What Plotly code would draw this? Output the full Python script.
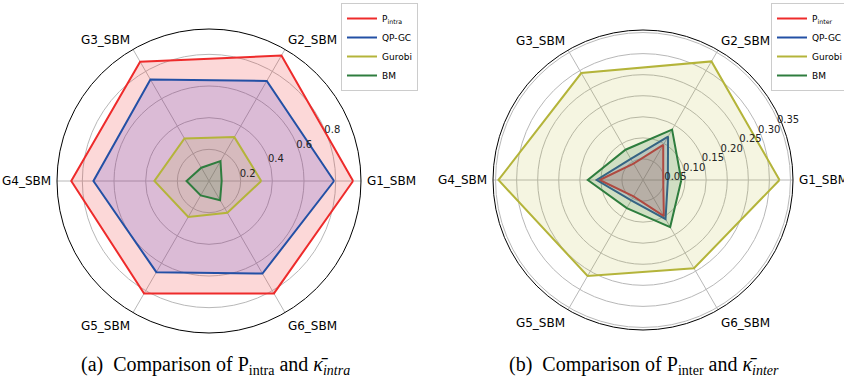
import plotly.graph_objects as go

categories = ["G1_SBM", "G2_SBM", "G3_SBM", "G4_SBM", "G5_SBM", "G6_SBM"]

# (a) intra
p_intra = [0.91, 0.915, 0.87, 0.87, 0.82, 0.82]
qpgc_intra = [0.79, 0.73, 0.74, 0.73, 0.665, 0.675]
gurobi_intra = [0.33, 0.32, 0.31, 0.345, 0.262, 0.232]
bm_intra = [0.08, 0.145, 0.097, 0.142, 0.105, 0.14]

# (b) inter
p_inter = [0.048, 0.096, 0.045, 0.103, 0.045, 0.099]
qpgc_inter = [0.059, 0.119, 0.058, 0.110, 0.056, 0.107]
gurobi_inter = [0.324, 0.325, 0.293, 0.343, 0.263, 0.242]
bm_inter = [0.091, 0.138, 0.083, 0.131, 0.077, 0.129]

intra_ticks = [0.2, 0.4, 0.6, 0.8]
inter_ticks = [0.05, 0.10, 0.15, 0.20, 0.25, 0.30, 0.35]

series_names_a = ["P<sub>intra</sub>", "QP-GC", "Gurobi", "BM"]
series_names_b = ["P<sub>inter</sub>", "QP-GC", "Gurobi", "BM"]

line_colors = ["#ee2b2b", "#2350a5", "#b4b43a", "#2e7d3e"]
fill_colors = ["rgba(240,50,50,0.19)", "rgba(60,50,210,0.17)",
               "rgba(185,185,40,0.14)", "rgba(45,130,60,0.18)"]


def closed(v):
    return list(v) + [v[0]]


fig = go.Figure()

data_a = [p_intra, qpgc_intra, gurobi_intra, bm_intra]
data_b = [p_inter, qpgc_inter, gurobi_inter, bm_inter]

for sub, leg, data, names in (("polar", "legend", data_a, series_names_a),
                              ("polar2", "legend2", data_b, series_names_b)):
    for i, vals in enumerate(data):
        fig.add_trace(go.Scatterpolar(
            r=closed(vals), theta=closed(categories), mode="lines",
            fill="toself", fillcolor=fill_colors[i],
            line=dict(color=line_colors[i], width=2),
            name=names[i], subplot=sub, showlegend=False, hoverinfo="skip"))
    # legend entries (line only, like the reference)
    for i in range(len(data)):
        fig.add_trace(go.Scatterpolar(
            r=[None], theta=[None], mode="lines",
            line=dict(color=line_colors[i], width=2),
            name=names[i], subplot=sub, legend=leg, showlegend=True))

W, H = 844, 385


def dom(cx, cy, rad):
    return dict(x=[(cx - rad) / W, (cx + rad) / W],
                y=[(H - cy - rad) / H, (H - cy + rad) / H])


grid = "#b8b8b8"
ang = dict(type="category", categoryarray=categories, rotation=0,
           direction="counterclockwise", showline=True, linecolor="black",
           linewidth=1, gridcolor=grid, gridwidth=0.8,
           ticks="outside", ticklen=3, tickcolor="rgba(0,0,0,0)",
           tickfont=dict(family="DejaVu Sans", size=12, color="black"))

leg_common = dict(xanchor="left", yanchor="top",
                  bgcolor="white", bordercolor="#cccccc", borderwidth=1,
                  font=dict(family="DejaVu Sans", size=9), itemwidth=30,
                  tracegroupgap=0)

rad_common = dict(angle=27, tickangle=27, side="clockwise",
                  showline=False, ticks="", gridcolor=grid, gridwidth=0.8,
                  tickfont=dict(family="DejaVu Sans", size=10, color="#222"))

fig.update_layout(
    width=W, height=H, margin=dict(l=0, r=0, t=0, b=0, autoexpand=False),
    paper_bgcolor="white", plot_bgcolor="white",
    font=dict(family="DejaVu Sans", color="black"),
    polar=dict(
        domain=dom(209, 181, 152), bgcolor="white",
        angularaxis=ang,
        radialaxis=dict(range=[0, 0.96], tickvals=intra_ticks,
                        ticktext=[f"{t:.1f}" for t in intra_ticks],
                        **rad_common)),
    polar2=dict(
        domain=dom(643, 180, 150), bgcolor="white",
        angularaxis=ang,
        radialaxis=dict(range=[0, 0.356], tickvals=inter_ticks,
                        ticktext=[f"{t:.2f}" for t in inter_ticks],
                        **rad_common)),
    legend=dict(x=341 / W, y=1 - 3 / H, **leg_common),
    legend2=dict(x=771 / W, y=1 - 3 / H, **leg_common),
    showlegend=True,
)

fig.add_annotation(x=215 / W, y=1 - 365 / H, xref="paper", yref="paper",
                   showarrow=False, xanchor="center", yanchor="middle",
                   text="(a)  Comparison of P<sub>intra</sub> and <i>κ̄<sub>intra</sub></i>",
                   font=dict(family="Liberation Serif", size=20, color="black"))
fig.add_annotation(x=644 / W, y=1 - 365 / H, xref="paper", yref="paper",
                   showarrow=False, xanchor="center", yanchor="middle",
                   text="(b)  Comparison of P<sub>inter</sub> and <i>κ̄<sub>inter</sub></i>",
                   font=dict(family="Liberation Serif", size=20, color="black"))

fig.write_html("out.html",
               config={"displayModeBar": False},
               post_script="document.body.style.margin='0';"
                           "document.body.style.overflow='hidden';")
